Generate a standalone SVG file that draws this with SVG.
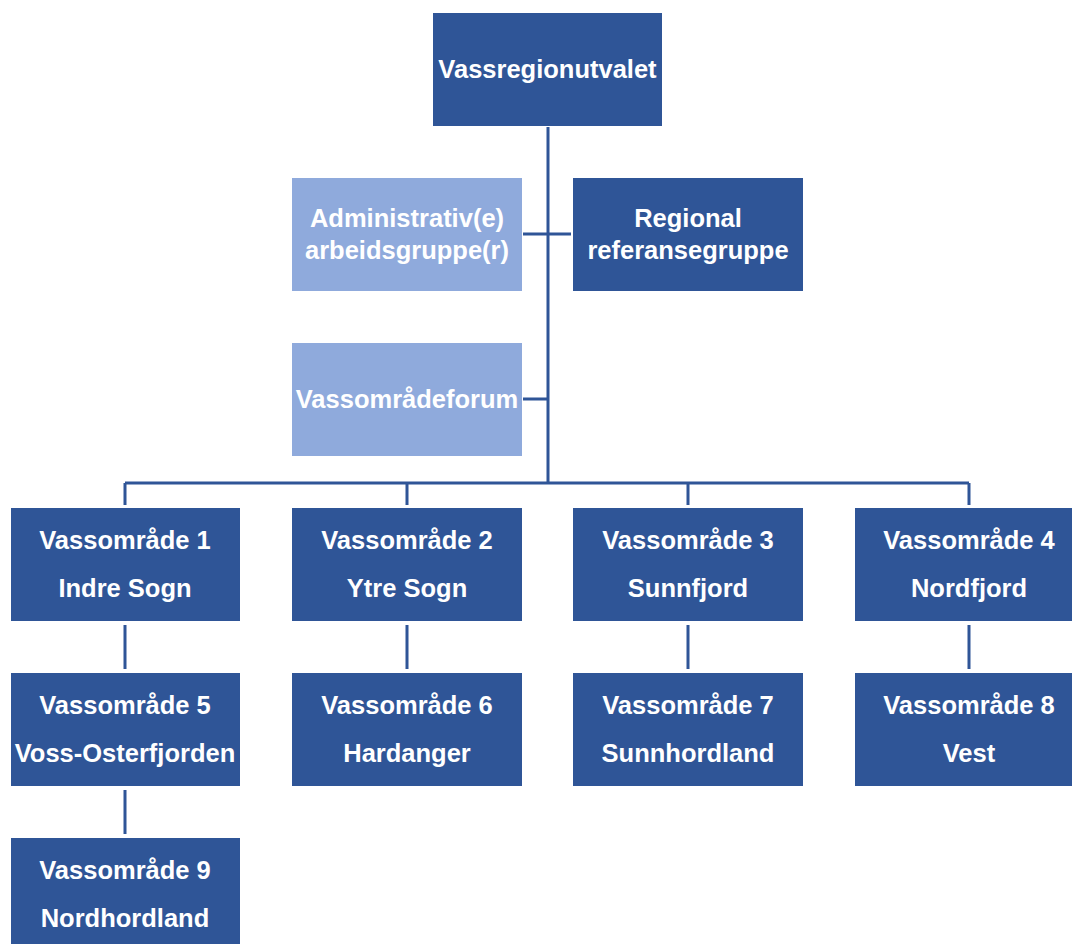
<svg xmlns="http://www.w3.org/2000/svg" width="1072" height="944" viewBox="0 0 1072 944">
<style>
.d{fill:#2F5597}
.l{fill:#8FAADC}
text{font-family:"Liberation Sans",Arial,sans-serif;font-weight:bold;font-size:25.5px;fill:#fff;text-anchor:middle}
.c{stroke:#2F5597;stroke-width:3;fill:none}
</style>
<rect width="1072" height="944" fill="#fff"/>
<g id="connectors" class="c">
<path d="M548 127V483M125 483H969M125 483V505M407 483V505M688 483V505M969 483V505"/>
<path d="M523 234H571M523 399H548"/>
<path d="M125 625V669M407 625V669M688 625V669M969 625V669M125 790V834"/>
</g>
<g id="vassregionutvalet"><rect class="d" x="433" y="13" width="229" height="113"/><text x="547.5" y="78">Vassregionutvalet</text></g>
<g id="admin"><rect class="l" x="292" y="178" width="230" height="113"/><text x="407" y="227">Administrativ(e)</text><text x="407" y="259">arbeidsgruppe(r)</text></g>
<g id="regional"><rect class="d" x="573" y="178" width="230" height="113"/><text x="688" y="227">Regional</text><text x="688" y="259">referansegruppe</text></g>
<g id="forum"><rect class="l" x="292" y="343" width="230" height="113"/><text x="407" y="408">Vassområdeforum</text></g>
<g id="va1"><rect class="d" x="11" y="508" width="229" height="113"/><text x="125" y="549">Vassområde 1</text><text x="125" y="597">Indre Sogn</text></g>
<g id="va2"><rect class="d" x="292" y="508" width="230" height="113"/><text x="407" y="549">Vassområde 2</text><text x="407" y="597">Ytre Sogn</text></g>
<g id="va3"><rect class="d" x="573" y="508" width="230" height="113"/><text x="688" y="549">Vassområde 3</text><text x="688" y="597">Sunnfjord</text></g>
<g id="va4"><rect class="d" x="855" y="508" width="230" height="113"/><text x="969" y="549">Vassområde 4</text><text x="969" y="597">Nordfjord</text></g>
<g id="va5"><rect class="d" x="11" y="673" width="229" height="113"/><text x="125" y="714">Vassområde 5</text><text x="125" y="762">Voss-Osterfjorden</text></g>
<g id="va6"><rect class="d" x="292" y="673" width="230" height="113"/><text x="407" y="714">Vassområde 6</text><text x="407" y="762">Hardanger</text></g>
<g id="va7"><rect class="d" x="573" y="673" width="230" height="113"/><text x="688" y="714">Vassområde 7</text><text x="688" y="762">Sunnhordland</text></g>
<g id="va8"><rect class="d" x="855" y="673" width="230" height="113"/><text x="969" y="714">Vassområde 8</text><text x="969" y="762">Vest</text></g>
<g id="va9"><rect class="d" x="11" y="838" width="229" height="113"/><text x="125" y="879">Vassområde 9</text><text x="125" y="927">Nordhordland</text></g>
</svg>
